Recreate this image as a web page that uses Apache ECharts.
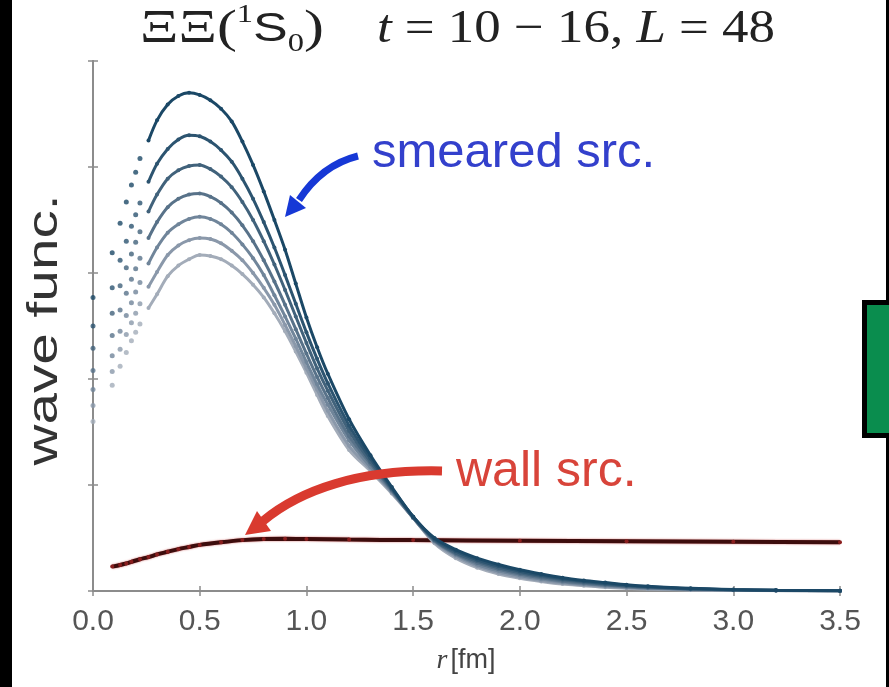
<!DOCTYPE html>
<html lang="en">
<head>
    <meta charset="UTF-8">
    <title>wave func.</title>
    <script src="https://cdn.jsdelivr.net/npm/echarts@6/dist/echarts.min.js"></script>
    <style>
        html, body { margin: 0; padding: 0; background: #fff; }
        #main { width: 889px; height: 687px; }
    </style>
</head>
<body>
<div id="main"></div>
<script>
    // r [fm]
    const radius = [0, 0.09, 0.127, 0.156, 0.18, 0.2, 0.22, 0.26, 0.3, 0.35, 0.4, 0.45, 0.5, 0.55, 0.6, 0.65,
        0.7, 0.75, 0.8, 0.85, 0.9, 0.95, 1.0, 1.05, 1.1, 1.2, 1.3, 1.4, 1.5, 1.6, 1.7, 1.8, 1.9, 2.0,
        2.1, 2.2, 2.3, 2.4, 2.5, 2.6, 2.8, 3.0, 3.2, 3.5];

    // smeared source, t = 10 ... 16 (top curve first)
    const smearT10 = [2.77, 3.19, 3.47, 3.67, 3.83, 3.95, 4.08, 4.25, 4.44, 4.59, 4.67, 4.70, 4.68, 4.63, 4.55, 4.43,
        4.24, 4.02, 3.77, 3.50, 3.22, 2.90, 2.58, 2.30, 2.05, 1.62, 1.28, 0.98, 0.70, 0.50, 0.39, 0.31, 0.25, 0.20,
        0.16, 0.125, 0.10, 0.08, 0.06, 0.045, 0.025, 0.014, 0.008, 0.003];
    const smearT11 = [2.50, 2.86, 3.12, 3.30, 3.44, 3.55, 3.66, 3.86, 4.03, 4.17, 4.26, 4.30, 4.29, 4.24, 4.16, 4.05,
        3.89, 3.70, 3.48, 3.24, 2.98, 2.71, 2.44, 2.19, 1.96, 1.56, 1.25, 0.97, 0.70, 0.49, 0.375, 0.295, 0.235, 0.187,
        0.148, 0.115, 0.091, 0.071, 0.054, 0.04, 0.022, 0.012, 0.007, 0.003];
    const smearT12 = [2.29, 2.62, 2.88, 3.05, 3.18, 3.29, 3.39, 3.58, 3.74, 3.89, 3.97, 4.01, 4.02, 3.98, 3.91, 3.81,
        3.67, 3.50, 3.30, 3.08, 2.84, 2.59, 2.34, 2.10, 1.89, 1.51, 1.22, 0.96, 0.70, 0.48, 0.36, 0.28, 0.22, 0.173,
        0.136, 0.105, 0.082, 0.063, 0.048, 0.036, 0.02, 0.011, 0.006, 0.002];
    const smearT13 = [2.08, 2.41, 2.65, 2.81, 2.94, 3.04, 3.14, 3.33, 3.48, 3.62, 3.70, 3.74, 3.75, 3.72, 3.66, 3.57,
        3.45, 3.30, 3.12, 2.92, 2.70, 2.47, 2.24, 2.02, 1.82, 1.46, 1.20, 0.95, 0.69, 0.475, 0.35, 0.265, 0.205, 0.16,
        0.124, 0.095, 0.074, 0.056, 0.042, 0.031, 0.017, 0.01, 0.005, 0.002];
    const smearT14 = [1.90, 2.22, 2.45, 2.60, 2.72, 2.82, 2.91, 3.09, 3.24, 3.38, 3.46, 3.51, 3.53, 3.51, 3.46, 3.38,
        3.27, 3.14, 2.98, 2.79, 2.59, 2.38, 2.16, 1.95, 1.76, 1.42, 1.17, 0.94, 0.69, 0.47, 0.34, 0.25, 0.19, 0.147,
        0.112, 0.085, 0.066, 0.049, 0.037, 0.027, 0.015, 0.009, 0.005, 0.002];
    const smearT15 = [1.75, 2.07, 2.28, 2.42, 2.53, 2.62, 2.71, 2.87, 3.01, 3.17, 3.26, 3.31, 3.33, 3.32, 3.28, 3.21,
        3.12, 3.00, 2.86, 2.70, 2.51, 2.31, 2.10, 1.90, 1.70, 1.37, 1.15, 0.93, 0.69, 0.46, 0.325, 0.235, 0.175, 0.133,
        0.10, 0.075, 0.058, 0.042, 0.031, 0.022, 0.012, 0.007, 0.004, 0.001];
    const smearT16 = [1.60, 1.94, 2.12, 2.25, 2.36, 2.44, 2.52, 2.67, 2.80, 2.97, 3.07, 3.13, 3.17, 3.16, 3.13, 3.07,
        2.99, 2.89, 2.77, 2.62, 2.45, 2.26, 2.06, 1.85, 1.65, 1.33, 1.13, 0.92, 0.69, 0.45, 0.31, 0.22, 0.16, 0.12,
        0.09, 0.065, 0.05, 0.035, 0.025, 0.018, 0.01, 0.006, 0.003, 0.001];

    // wall source
    const wallRadius = [0.09, 0.127, 0.156, 0.18, 0.22, 0.26, 0.3, 0.35, 0.4, 0.45, 0.5, 0.6, 0.7, 0.8, 0.9, 1.0,
        1.2, 1.5, 2.0, 2.5, 3.0, 3.5];
    const wallValues = [0.23, 0.245, 0.26, 0.275, 0.30, 0.32, 0.345, 0.37, 0.395, 0.415, 0.435, 0.46, 0.48, 0.49,
        0.492, 0.49, 0.485, 0.48, 0.475, 0.47, 0.465, 0.46];

    const xTicks = [0.0, 0.5, 1.0, 1.5, 2.0, 2.5, 3.0, 3.5];

    const smearList = [smearT16, smearT15, smearT14, smearT13, smearT12, smearT11, smearT10];
    const smearColors = ['#a3acb9', '#8a98aa', '#70859a', '#587289', '#41627b', '#2c5470', '#1b4866'];
    const lineStart = 7; // points below this index are the sparse lattice points near r = 0

    let myChart = echarts.init(document.getElementById('main'), null, {renderer: 'canvas'});

    let series = [];
    smearList.forEach(function (vals, k) {
        let pts = radius.map(function (r, i) { return [r, vals[i]]; });
        series.push({
            type: 'scatter',
            data: pts.slice(0, lineStart),
            symbolSize: 5,
            itemStyle: {color: smearColors[k]},
            z: 2 + k
        });
        series.push({
            type: 'line',
            data: pts.slice(lineStart),
            smooth: 0.3,
            symbol: 'circle',
            symbolSize: 4,
            showSymbol: true,
            itemStyle: {color: smearColors[k]},
            lineStyle: {color: smearColors[k], width: 3},
            z: 2 + k
        });
    });
    series.push({
        type: 'line',
        data: wallRadius.map(function (r, i) { return [r, wallValues[i]]; }),
        smooth: 0.3,
        symbol: 'circle',
        symbolSize: 4,
        itemStyle: {color: '#8a1e1e'},
        lineStyle: {color: '#3d0d0d', width: 4, shadowColor: 'rgba(190,40,40,0.7)', shadowBlur: 2},
        z: 1
    });

    const axisGray = '#8c8c8c';
    let option = {
        backgroundColor: '#ffffff',
        animation: false,
        grid: {left: 93, right: 49, top: 61, bottom: 96, containLabel: false},
        xAxis: [
            {
                type: 'value', min: 0, max: 3.5, interval: 0.5, position: 'bottom',
                axisLine: {lineStyle: {color: axisGray, width: 2}},
                axisTick: {inside: true, length: 5, lineStyle: {color: axisGray, width: 1.5}},
                axisLabel: {
                    margin: 16, color: '#555', fontSize: 30,
                    fontFamily: '"Liberation Sans Narrow", "Liberation Sans", sans-serif',
                    formatter: function (v) {
                        let t = xTicks.find(function (x) { return Math.abs(x - v) < 1e-6; });
                        return t === undefined ? '' : t.toFixed(1);
                    }
                },
                splitLine: {show: false}
            },
            {
                type: 'value', min: 0, max: 3.5, interval: 0.5, position: 'top',
                axisLine: {show: true, lineStyle: {color: axisGray, width: 2}},
                axisTick: {show: true, inside: true, length: 5, lineStyle: {color: axisGray, width: 1.5}},
                axisLabel: {show: false},
                splitLine: {show: false}
            }
        ],
        yAxis: [
            {
                type: 'value', min: 0, max: 5, interval: 1, position: 'left',
                axisLine: {show: true, lineStyle: {color: axisGray, width: 2}},
                axisTick: {show: true, inside: true, length: 5, lineStyle: {color: axisGray, width: 1.5}},
                axisLabel: {show: false},
                splitLine: {show: false}
            },
            {
                type: 'value', min: 0, max: 5, interval: 1, position: 'right',
                axisLine: {show: true, lineStyle: {color: axisGray, width: 2}},
                axisTick: {show: true, inside: true, length: 5, lineStyle: {color: axisGray, width: 1.5}},
                axisLabel: {show: false},
                splitLine: {show: false}
            }
        ],
        series: series,
        graphic: [
            // frame pieces around the picture
            {type: 'rect', shape: {x: 0, y: 0, width: 12, height: 687}, style: {fill: '#000'}, z: 100},
            {type: 'rect', shape: {x: 886, y: 0, width: 3, height: 687}, style: {fill: '#000'}, z: 100},
            {type: 'rect', shape: {x: 862, y: 300, width: 27, height: 138}, style: {fill: '#000'}, z: 100},
            {type: 'rect', shape: {x: 867, y: 305, width: 22, height: 128}, style: {fill: '#0a8d4e'}, z: 101},
            // title, two pieces
            {
                type: 'text', x: 140, y: 30, scaleX: 1.3, z: 100,
                style: {
                    text: '{g|ΞΞ(}{sup|1}{s|S}{sub|0}{g|)}',
                    align: 'left', verticalAlign: 'middle',
                    rich: {
                        g: {fontFamily: '"Liberation Serif", serif', fontSize: 46, fill: '#222', lineHeight: 54},
                        s: {fontFamily: '"Liberation Sans", sans-serif', fontSize: 40, fill: '#222', lineHeight: 54},
                        sup: {fontFamily: '"Liberation Serif", serif', fontSize: 25, fill: '#222', lineHeight: 26, verticalAlign: 'top'},
                        sub: {fontFamily: '"Liberation Serif", serif', fontSize: 25, fill: '#222', lineHeight: 24, verticalAlign: 'bottom'}
                    }
                }
            },
            {
                type: 'text', x: 775, y: 30, scaleX: 1.15, z: 100,
                style: {
                    text: '{i|t}{g| = 10 − 16, }{i|L}{g| = 48}',
                    align: 'right', verticalAlign: 'middle',
                    rich: {
                        g: {fontFamily: '"Liberation Serif", serif', fontSize: 46, fill: '#222', lineHeight: 54},
                        i: {fontFamily: '"Liberation Serif", serif', fontStyle: 'italic', fontSize: 46, fill: '#222', lineHeight: 54}
                    }
                }
            },
            // y axis name
            {
                type: 'text', x: 45, y: 330, rotation: Math.PI / 2, scaleX: 1.35, z: 100,
                style: {
                    text: 'wave func.', fill: '#333', fontSize: 42,
                    fontFamily: '"Liberation Sans", Arial, sans-serif',
                    align: 'center', verticalAlign: 'middle'
                }
            },
            // x axis name
            {
                type: 'text', x: 466, y: 661, z: 100,
                style: {
                    text: '{i|r} {s|[fm]}', align: 'center', verticalAlign: 'middle',
                    rich: {
                        i: {fontFamily: '"Liberation Serif", serif', fontStyle: 'italic', fontSize: 28, fill: '#444'},
                        s: {fontFamily: '"Liberation Sans Narrow", "Liberation Sans", sans-serif', fontSize: 27, fill: '#444'}
                    }
                }
            },
            // annotations
            {
                type: 'text', x: 372, y: 153, z: 100,
                style: {
                    text: 'smeared src.', fill: '#3340cc', fontSize: 49,
                    fontFamily: '"Liberation Sans", Arial, sans-serif',
                    align: 'left', verticalAlign: 'middle'
                }
            },
            {
                type: 'bezierCurve', z: 100,
                shape: {x1: 358, y1: 156, cpx1: 330, cpy1: 163, cpx2: 312, cpy2: 180, x2: 299, y2: 200},
                style: {stroke: '#1638d6', lineWidth: 7, fill: null}
            },
            {
                type: 'polygon', z: 100,
                shape: {points: [[285, 217], [290, 195], [306, 208]]},
                style: {fill: '#1638d6'}
            },
            {
                type: 'text', x: 456, y: 472, z: 100,
                style: {
                    text: 'wall src.', fill: '#d8443a', fontSize: 50,
                    fontFamily: '"Liberation Sans", Arial, sans-serif',
                    align: 'left', verticalAlign: 'middle'
                }
            },
            {
                type: 'bezierCurve', z: 100,
                shape: {x1: 442, y1: 471, cpx1: 360, cpy1: 469, cpx2: 300, cpy2: 490, x2: 263, y2: 521},
                style: {stroke: '#d93a2f', lineWidth: 9, fill: null}
            },
            {
                type: 'polygon', z: 100,
                shape: {points: [[245, 535], [257, 511], [271, 531]]},
                style: {fill: '#d93a2f'}
            }
        ]
    };

    myChart.setOption(option);
</script>
</body>
</html>
